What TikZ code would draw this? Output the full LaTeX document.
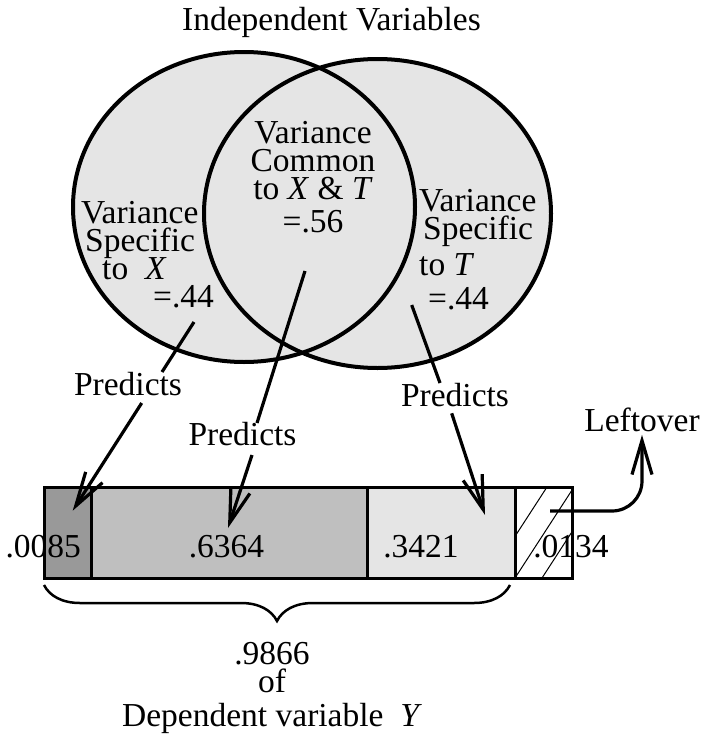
\documentclass[tikz,border=0pt]{standalone}
\usepackage{fontspec}
\setmainfont{Liberation Serif}
\usetikzlibrary{arrows.meta,decorations.pathreplacing,positioning}

\newcommand{\diagfont}{\fontsize{33.5}{28}\selectfont\lineskiplimit=-100pt\relax}

\begin{document}
\begin{tikzpicture}[x=1pt, y=-1pt,
    every node/.style={font=\diagfont},
    venn/.style={line width=4pt},
    cell/.style={draw, line width=3pt},
    link/.style={line width=3.2pt},
    tip/.style={-{Straight Barb[length=34pt,width=20pt]}, line width=3.2pt}]
    \useasboundingbox (0,0) rectangle (702,736);

    % Independent variables
    \node[anchor=base] (title) at (331.5,30) {Independent Variables};
    \coordinate (cx) at (244,207);
    \coordinate (ct) at (377.5,213.5);
    \fill[black!10] (cx) ellipse [x radius=171, y radius=155];
    \fill[black!10] (ct) ellipse [x radius=173.5, y radius=154.5];
    \draw[venn] (cx) ellipse [x radius=171, y radius=155];
    \draw[venn] (ct) ellipse [x radius=173.5, y radius=154.5];

    \node[anchor=north west, align=left, inner sep=0] (spec-x) at (81,201)
        {Variance\\\hspace*{4pt}Specific\\\hspace*{21pt}to\ \ \textit{X}\\\hspace*{72pt}=.44};
    \node[anchor=north, align=center, inner sep=0] (common) at (313,121)
        {Variance\\Common\\to \textit{X} \& \textit{T}\\[5pt]=.56};
    \node[anchor=north west, align=left, inner sep=0] (spec-t) at (419,189)
        {Variance\\\hspace*{4pt}Specific\\[8pt]to \textit{T}\\[6pt]\hspace*{9pt}=.44};

    % Dependent variable
    \draw[cell, fill=black!40] (44,487) rectangle (91,578);
    \draw[cell, fill=black!25] (91,487) rectangle (367,578);
    \draw[cell, fill=black!10] (367,487) rectangle (515,578);
    \begin{scope}
        \clip (515,487) rectangle (572,578);
        \foreach \t in {547,574,601}
            \draw[line width=1pt] (\t,487) -- ++(-59,91);
    \end{scope}
    \draw[cell] (515,487) rectangle (572,578);

    \node[anchor=base] (v-x) at (43.3,557) {.0085};
    \node[anchor=base] (v-xt) at (226.5,557) {.6364};
    \node[anchor=base] (v-t) at (421,557) {.3421};
    \node[anchor=base] (v-left) at (571,557) {.0134};

    % Predicts
    \node[anchor=base] (pred-x) at (128,395) {Predicts};
    \node[anchor=base] (pred-xt) at (242.5,445) {Predicts};
    \node[anchor=base] (pred-t) at (455,406.7) {Predicts};
    \node[anchor=base] (leftover) at (642,431) {Leftover};

    \coordinate (x-a) at (194,322);
    \coordinate (x-b) at (162,372);
    \coordinate (x-c) at (141.7,403);
    \coordinate (x-d) at (72.7,510.7);
    \coordinate (xt-a) at (305,271);
    \coordinate (xt-b) at (257,423);
    \coordinate (xt-c) at (252,455);
    \coordinate (xt-d) at (228,528);
    \coordinate (t-a) at (411.7,305);
    \coordinate (t-b) at (440,383);
    \coordinate (t-c) at (451.7,413.3);
    \coordinate (t-d) at (485,515);
    \coordinate (lo-a) at (550,511);

    \draw[link] (x-a) -- (x-b);
    \draw[tip] (x-c) -- (x-d);
    \draw[link] (xt-a) -- (xt-b);
    \draw[tip] (xt-c) -- (xt-d);
    \draw[link] (t-a) -- (t-b);
    \draw[tip] (t-c) -- (t-d);
    \draw[tip, rounded corners=30pt] (lo-a) -| (leftover.south);

    % Brace
    \draw[line width=2.5pt, decorate, decoration={brace, mirror, amplitude=36pt}]
        (44,585) -- (510,585);
    \node[anchor=north, align=center, inner sep=0] (dep) at (272,642)
        {.9866\\of\\[6pt]Dependent variable\ \ \textit{Y}};
\end{tikzpicture}
\end{document}
